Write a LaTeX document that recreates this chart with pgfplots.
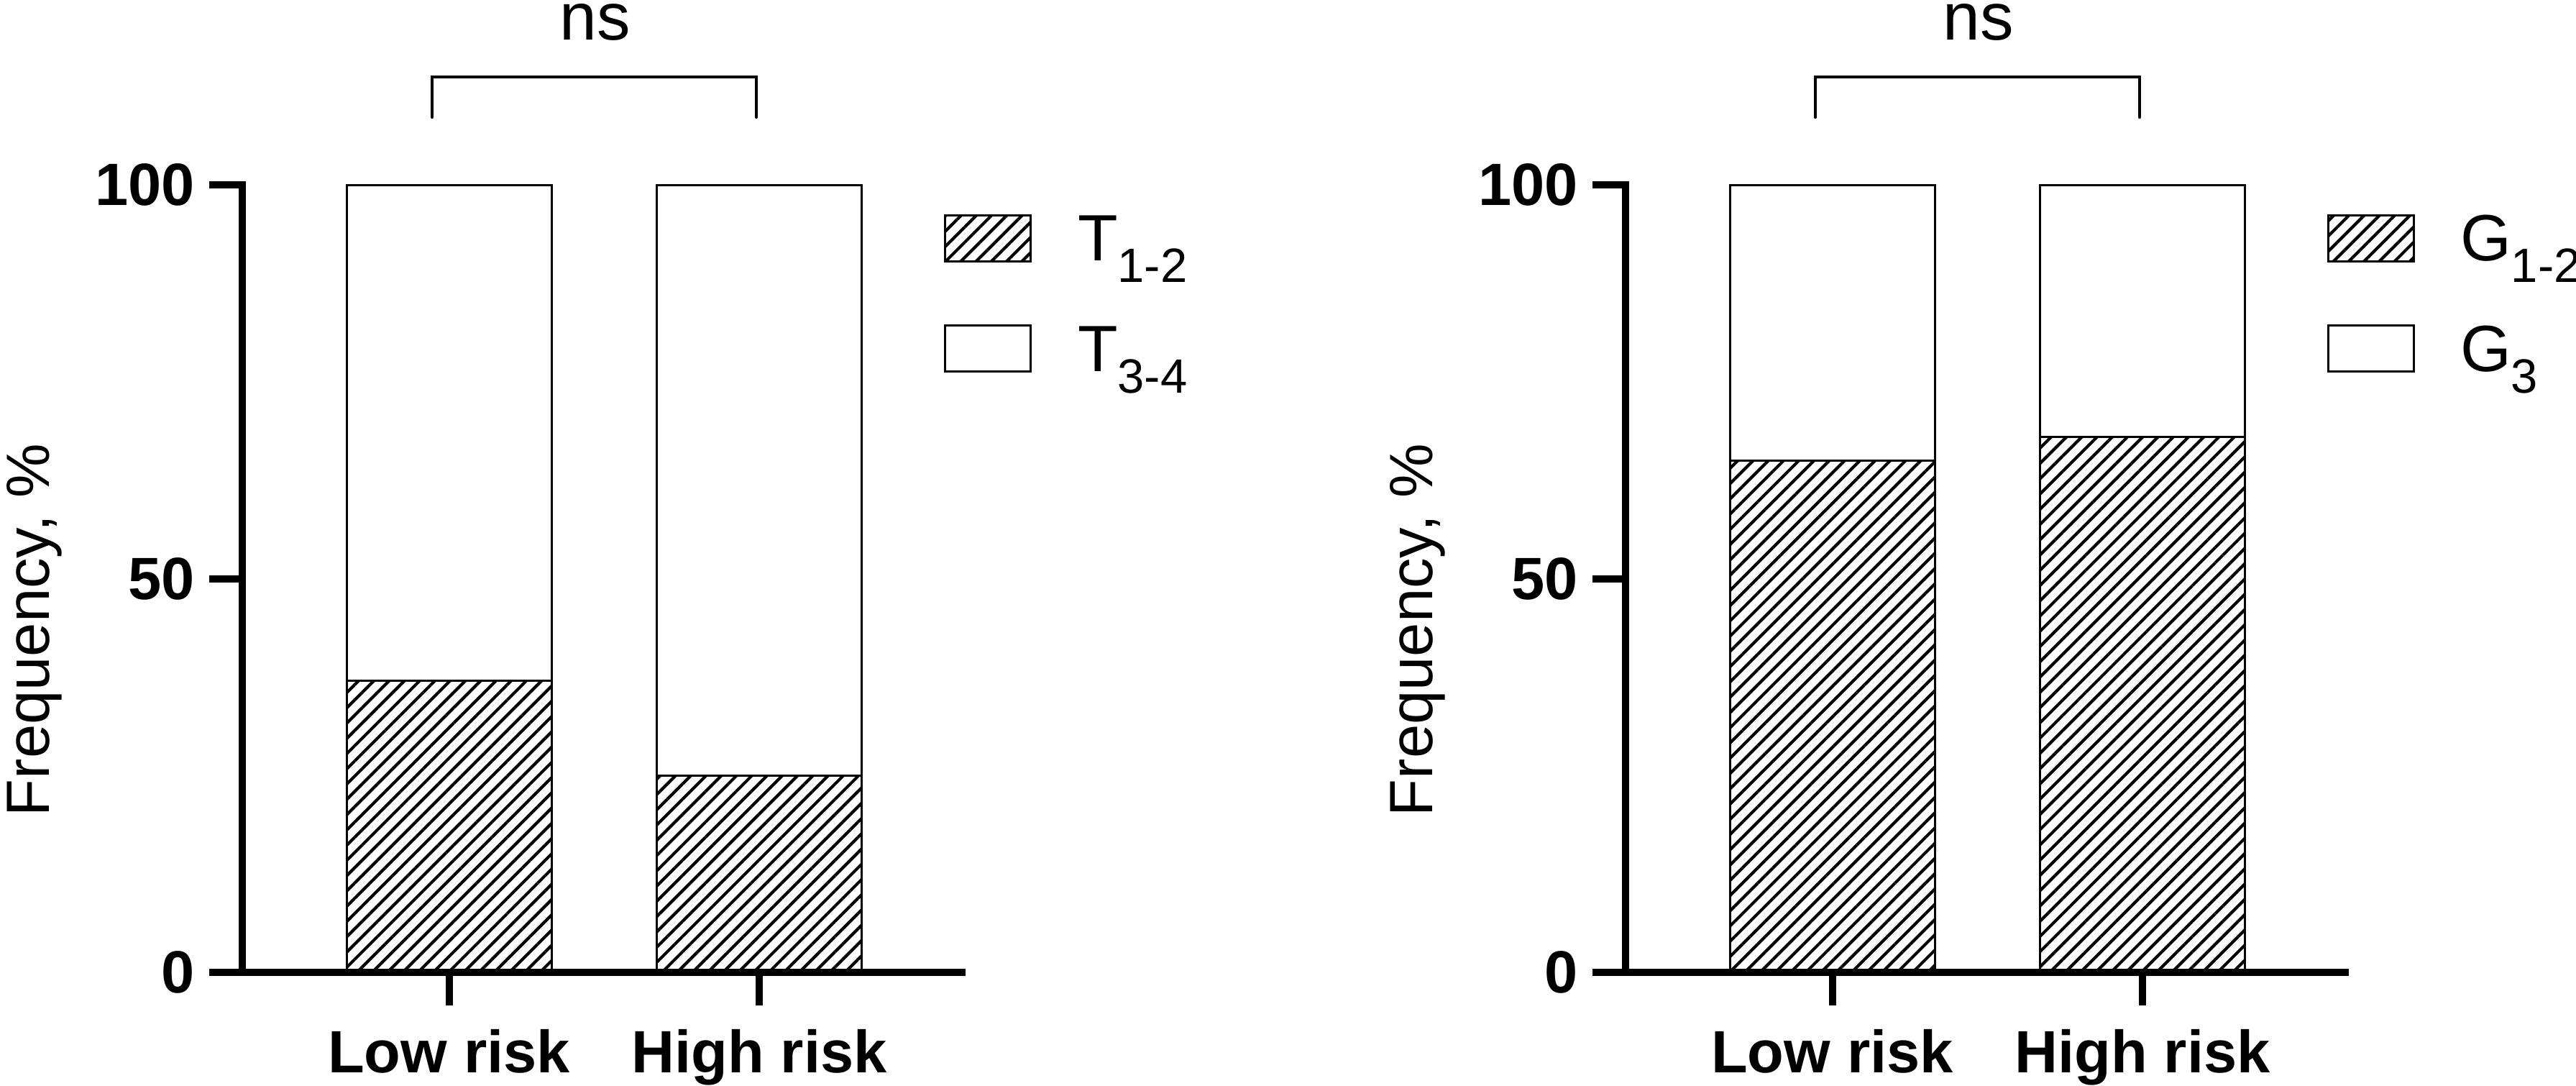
\documentclass[border=0pt]{standalone}
\usepackage{pgfplots}
\pgfplotsset{compat=1.18}
\usepackage{fontspec}
\setmainfont{Liberation Sans}
\usetikzlibrary{patterns.meta}
\newcommand{\sub}[1]{\raisebox{-3.05pt}{\fontsize{6.7}{7}\selectfont #1}}
\tikzset{
  hatch/.style={draw=black, line width=0.3pt, pattern={Lines[angle=45,distance=1.5pt,line width=0.42pt]}, pattern color=black},
  blank/.style={draw=black, line width=0.3pt, fill=white},
}
\pgfplotsset{
  panel/.style={
    anchor=south west,
    width=100.1pt, height=109.5pt, scale only axis,
    xmin=-0.6663, xmax=1.6535, ymin=0, ymax=100,
    axis x line*=bottom, axis y line*=left,
    axis line style={line width=1pt, line cap=rect},
    ybar stacked, bar width=28.5pt,
    xtick={0,1}, xticklabels={Low risk, High risk},
    ytick={0,50,100},
    tick align=outside,
    tick style={line width=1pt, black},
    major tick length=4.6pt,
    /pgf/number format/assume math mode=true,
    ticklabel style={font=\bfseries\fontsize{8.3}{10}\selectfont, inner sep=0pt},
    yticklabel style={anchor=east, xshift=-1.8pt},
    xticklabel style={anchor=base, yshift=-9.3pt},
    ylabel={Frequency, \%},
    ylabel style={at={(rel axis cs:-0.2687,0.4347)}, anchor=base, font=\fontsize{8.5}{10}\selectfont},
    clip=false,
  },
}
\begin{document}
\begin{tikzpicture}
\useasboundingbox (0,0) rectangle (358.3pt,150.9pt);
% Left panel
\begin{axis}[panel, at={(33.7pt,15.7pt)}]
\addplot[hatch] coordinates {(0,37) (1,25)};
\addplot[blank] coordinates {(0,63) (1,75)};
\draw[line width=0.45pt, line cap=round, line join=miter] (axis cs:-0.0545,108.6) -- (axis cs:-0.0545,113.7) -- (axis cs:0.9907,113.7) -- (axis cs:0.9907,108.6);
\node[anchor=base, inner sep=0pt, font=\fontsize{9.3}{11}\selectfont] at (axis cs:0.4716,118.4) {ns};
\end{axis}
% Right panel
\begin{axis}[panel, at={(226.1pt,15.7pt)}]
\addplot[hatch] coordinates {(0,65) (1,68)};
\addplot[blank] coordinates {(0,35) (1,32)};
\draw[line width=0.45pt, line cap=round, line join=miter] (axis cs:-0.0545,108.6) -- (axis cs:-0.0545,113.7) -- (axis cs:0.9907,113.7) -- (axis cs:0.9907,108.6);
\node[anchor=base, inner sep=0pt, font=\fontsize{9.3}{11}\selectfont] at (axis cs:0.4716,118.4) {ns};
\end{axis}
% Legends
\begin{scope}[font=\fontsize{9.1}{11}\selectfont]
\draw[hatch] (131.4pt,114.6pt) rectangle (143.3pt,121.0pt);
\draw[blank] (131.4pt,99.3pt) rectangle (143.3pt,105.7pt);
\node[anchor=base west, inner sep=0pt] at (149.7pt,114.7pt) {T\sub{1-2}};
\node[anchor=base west, inner sep=0pt] at (149.7pt,99.3pt) {T\sub{3-4}};
\draw[hatch] (323.8pt,114.6pt) rectangle (335.7pt,121.0pt);
\draw[blank] (323.8pt,99.3pt) rectangle (335.7pt,105.7pt);
\node[anchor=base west, inner sep=0pt] at (342.0pt,114.7pt) {G\sub{1-2}};
\node[anchor=base west, inner sep=0pt] at (342.0pt,99.3pt) {G\sub{3}};
\end{scope}
\end{tikzpicture}
\end{document}
